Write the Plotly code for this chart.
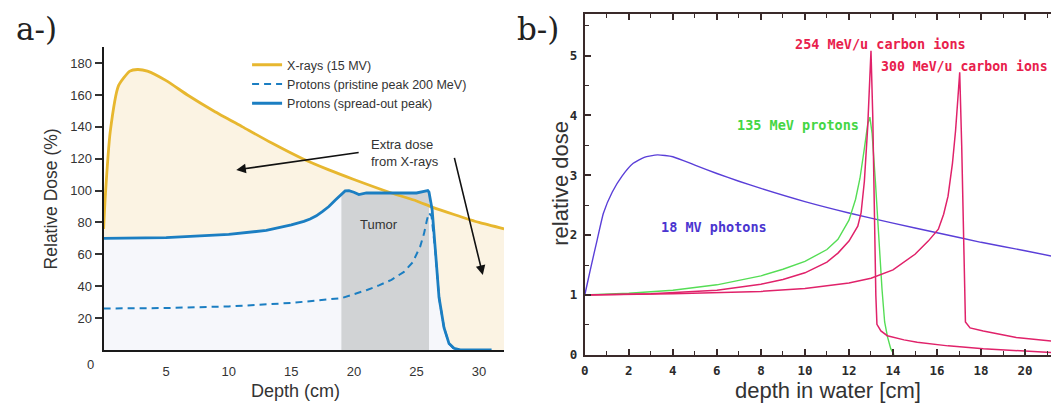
import plotly.graph_objects as go

W, H = 1051, 411

# ---------------- Panel a data ----------------
xray_depth = [0, 0.13, 0.53, 1.2, 2.1, 2.7, 3.5, 5, 6.7, 8.8, 11.1, 13.4, 15.9, 18, 20, 23, 25, 26.3, 28, 30, 32]
xray_dose = [76, 96, 137, 166, 175, 176, 175, 169, 160, 150, 140, 130, 120, 113, 107, 98.5, 93.5, 89.5, 85, 80, 76]

sobp_depth = [0, 5, 10, 13, 15, 15.5, 16, 16.5, 17, 17.5, 18, 18.5, 19.0, 19.3, 19.6, 20.0, 20.4, 21.0, 22, 23, 24,
              25, 25.6, 25.9, 26.0, 26.25, 26.5, 26.8, 27.2, 27.6, 28.0, 28.5, 31]
sobp_dose = [70, 70.5, 72.5, 75, 78.5, 79.5, 80.7, 82.2, 84.2, 87, 90, 94, 98, 99.8, 100, 99, 97.5, 98.5, 98.5,
             98.5, 98.5, 98.5, 99.5, 100, 99, 88, 63.5, 33, 14, 4, 1, 0, 0]

pristine_depth = [0, 5, 10, 15, 19, 20, 21, 22, 23, 24, 24.7, 25.3, 25.6, 25.85, 26.0, 26.2, 26.5, 26.8, 27.2, 27.6, 28.0]
pristine_dose = [26, 26.3, 27.3, 29.5, 32.5, 35, 37.5, 40.5, 44, 49, 55, 65, 73, 82, 86, 84, 62, 33, 14, 4, 0.5]

tumor_start, tumor_end = 19.0, 26.0
a_xticks = [5, 10, 15, 20, 25, 30]
a_yticks = [20, 40, 60, 80, 100, 120, 140, 160, 180]

# ---------------- Panel b data ----------------
photon_depth = [0, 0.15, 0.3, 0.55, 0.85, 1.25, 1.7, 2.2, 2.7, 3.3, 4, 5, 6, 7, 8, 10, 12, 14, 16, 18, 20, 21.2]
photon_dose = [1.0, 1.25, 1.5, 1.9, 2.37, 2.72, 2.99, 3.2, 3.3, 3.34, 3.31, 3.17, 3.03, 2.9, 2.78, 2.56, 2.37, 2.2,
               2.04, 1.88, 1.74, 1.65]

proton_depth = [0, 2, 4, 6, 8, 9, 10, 11, 11.5, 12, 12.3, 12.5, 12.7, 12.85, 12.95, 13.05, 13.2, 13.35, 13.5,
                13.62, 13.75, 13.9, 14.05]
proton_dose = [1.0, 1.03, 1.08, 1.17, 1.32, 1.43, 1.56, 1.76, 1.93, 2.25, 2.6, 2.95, 3.45, 3.85, 3.97, 3.7, 2.9,
               1.9, 1.1, 0.55, 0.3, 0.1, 0.0]

c254_depth = [0, 3, 6, 8, 9, 10, 11, 11.5, 12, 12.4, 12.55, 12.7, 12.85, 12.95, 13.0, 13.08, 13.15, 13.22, 13.27,
              13.45, 13.74, 14.5, 15.1, 16.5, 18.1, 19.5, 21.2]
c254_dose = [1.0, 1.02, 1.08, 1.18, 1.26, 1.37, 1.55, 1.7, 1.9, 2.15, 2.37, 2.9, 3.8, 4.6, 5.08, 4.0, 2.4, 1.0, 0.51,
             0.4, 0.32, 0.25, 0.21, 0.15, 0.1, 0.07, 0.04]

c300_depth = [0, 4, 8, 10, 12, 13, 14, 15, 15.6, 16.06, 16.3, 16.5, 16.7, 16.84, 16.95, 17.03, 17.12, 17.2, 17.29,
              17.5, 18.1, 19.6, 21.2]
c300_dose = [1.0, 1.02, 1.06, 1.11, 1.2, 1.28, 1.42, 1.68, 1.9, 2.1, 2.35, 2.65, 3.2, 3.74, 4.3, 4.72, 3.5, 2.0,
             0.55, 0.45, 0.4, 0.29, 0.23]

b_xticks = [0, 2, 4, 6, 8, 10, 12, 14, 16, 18, 20]
b_yticks = [0, 1, 2, 3, 4, 5]

SANS = "Liberation Sans, Arial, sans-serif"
MONO = "DejaVu Sans Mono, monospace"

YELLOW = "#E7B72F"
BLUE = "#1B7EC2"
BEIGE = "#FBF3E3"
PALE = "#F6F7FB"
GREY = "#D1D3D5"
AX_B = "#3a2a2a"

fig = go.Figure()

# panel a fills
fig.add_trace(go.Scatter(x=xray_depth, y=xray_dose, mode="lines", line=dict(width=0, shape="spline", smoothing=0.6),
                         fill="tozeroy", fillcolor=BEIGE, showlegend=False, hoverinfo="skip", xaxis="x", yaxis="y"))
fig.add_trace(go.Scatter(x=sobp_depth, y=sobp_dose, mode="lines", line=dict(width=0),
                         fill="tozeroy", fillcolor=PALE, showlegend=False, hoverinfo="skip", xaxis="x", yaxis="y"))
tum = [(d, v) for d, v in zip(sobp_depth, sobp_dose) if tumor_start <= d <= tumor_end]
fig.add_trace(go.Scatter(x=[p[0] for p in tum], y=[p[1] for p in tum], mode="lines", line=dict(width=0),
                         fill="tozeroy", fillcolor=GREY, showlegend=False, hoverinfo="skip", xaxis="x", yaxis="y"))
# panel a lines
fig.add_trace(go.Scatter(x=pristine_depth, y=pristine_dose, mode="lines", name="Protons (pristine peak 200 MeV)",
                         line=dict(color=BLUE, width=2, dash="7px,5px"), legendrank=2, xaxis="x", yaxis="y"))
fig.add_trace(go.Scatter(x=xray_depth, y=xray_dose, mode="lines", name="X-rays (15 MV)",
                         line=dict(color=YELLOW, width=2.8, shape="spline", smoothing=0.6), legendrank=1,
                         xaxis="x", yaxis="y"))
fig.add_trace(go.Scatter(x=sobp_depth, y=sobp_dose, mode="lines", name="Protons (spread-out peak)",
                         line=dict(color=BLUE, width=2.8), legendrank=3, xaxis="x", yaxis="y"))

# panel b lines
fig.add_trace(go.Scatter(x=photon_depth, y=photon_dose, mode="lines",
                         line=dict(color="#5A3FD8", width=1.4, shape="spline", smoothing=0.5),
                         showlegend=False, xaxis="x2", yaxis="y2"))
fig.add_trace(go.Scatter(x=proton_depth, y=proton_dose, mode="lines", line=dict(color="#55DD55", width=1.4),
                         showlegend=False, xaxis="x2", yaxis="y2"))
fig.add_trace(go.Scatter(x=c254_depth, y=c254_dose, mode="lines", line=dict(color="#E0226A", width=1.5),
                         showlegend=False, xaxis="x2", yaxis="y2"))
fig.add_trace(go.Scatter(x=c300_depth, y=c300_dose, mode="lines", line=dict(color="#E0226A", width=1.5),
                         showlegend=False, xaxis="x2", yaxis="y2"))


def txt(text, x, y, xref="paper", yref="paper", size=13, family=SANS, color="#333", xanchor="center",
        angle=0, align="center"):
    if xref == "paper":
        x = x / W
    if yref == "paper":
        y = 1 - y / H
    return dict(text=text, x=x, y=y, xref=xref, yref=yref, xanchor=xanchor, yanchor="middle", showarrow=False,
                textangle=angle, align=align, font=dict(family=family, size=size, color=color))


ann = [
    txt("a-)", 10, 29, size=31, family="DejaVu Serif", color="#222", xanchor="left"),
    txt("b-)", 513, 29, size=31, family="DejaVu Serif", color="#222", xanchor="left"),
    txt("0", 87, 371, size=13),
    txt("Relative Dose (%)", 47, 202, size=17.5, angle=-90),
    txt("Depth (cm)", 293, 398, size=18),
    txt("Extra dose<br>from X-rays", 21.2, 123.5, xref="x", yref="y", size=13, xanchor="left", align="left"),
    txt("Tumor", 22.0, 79, xref="x", yref="y", size=13),
    dict(text="", x=10.6, y=113, ax=20.5, ay=124, xref="x", yref="y", axref="x", ayref="y",
         showarrow=True, arrowhead=2, arrowsize=1.2, arrowwidth=1.6, arrowcolor="#111"),
    dict(text="", x=30.3, y=47, ax=28.0, ay=121.5, xref="x", yref="y", axref="x", ayref="y",
         showarrow=True, arrowhead=2, arrowsize=1.2, arrowwidth=1.6, arrowcolor="#111"),
    txt("relative dose", 559, 186, size=22, angle=-90),
    txt("depth in water [cm]", 827, 397, size=22),
    txt("<b>254 MeV/u carbon ions</b>", 13.44, 5.19, xref="x2", yref="y2", size=13.5, family=MONO, color="#E8204C"),
    txt("<b>300 MeV/u carbon ions</b>", 13.36, 4.81, xref="x2", yref="y2", size=13.2, family=MONO, color="#E8204C",
        xanchor="left"),
    txt("<b>135 MeV protons</b>", 9.68, 3.84, xref="x2", yref="y2", size=13.5, family=MONO, color="#44D644"),
    txt("<b>18 MV photons</b>", 5.88, 2.13, xref="x2", yref="y2", size=13.5, family=MONO, color="#4B35D0"),
]

fig.update_layout(
    width=W, height=H, margin=dict(l=0, r=0, t=0, b=0),
    paper_bgcolor="white", plot_bgcolor="white",
    annotations=ann,
    legend=dict(x=244 / W, y=1 - 51 / H, xanchor="left", yanchor="top", bgcolor="rgba(0,0,0,0)",
                font=dict(family=SANS, size=12.5, color="#333"), itemwidth=30, tracegroupgap=0),
    xaxis=dict(domain=[100 / W, 502 / W], range=[0, 32], showline=True, linecolor="#1a1a1a", linewidth=2,
               tickvals=a_xticks, ticks="", ticklabelstandoff=8, showgrid=False, zeroline=False,
               tickfont=dict(family=SANS, size=13, color="#333"), anchor="y"),
    yaxis=dict(domain=[1 - 356 / H, 1 - 48 / H], range=[0, 190], showline=True, linecolor="#1a1a1a", linewidth=2,
               tickvals=a_yticks, ticks="outside", ticklen=7, tickwidth=1.5, tickcolor="#333",
               showgrid=False, zeroline=False, tickfont=dict(family=SANS, size=13, color="#333"), anchor="x"),
    xaxis2=dict(domain=[583 / W, 1], range=[0, (W - 583) / 22.1], showline=True, mirror="ticks",
                linecolor=AX_B, linewidth=2, tickvals=b_xticks, ticks="inside", ticklen=6, tickwidth=1.5,
                tickcolor=AX_B, minor=dict(dtick=1, tick0=0, ticks="inside", ticklen=4, tickwidth=1.2,
                                           tickcolor=AX_B),
                showgrid=False, zeroline=False, ticklabelstandoff=3,
                tickfont=dict(family=MONO, size=12.5, color="#2a2a2a", weight="bold"), anchor="y2"),
    yaxis2=dict(domain=[1 - 361 / H, 1 - 14 / H], range=[0, (361 - 14) / 60.9], showline=True,
                linecolor=AX_B, linewidth=2, tickvals=b_yticks, ticks="inside", ticklen=6, tickwidth=1.5,
                tickcolor=AX_B, minor=dict(dtick=0.5, tick0=0, ticks="inside", ticklen=4, tickwidth=1.2,
                                           tickcolor=AX_B),
                showgrid=False, zeroline=False, ticklabelstandoff=3,
                tickfont=dict(family=MONO, size=12.5, color="#2a2a2a", weight="bold"), anchor="x2"),
)

fig.write_html("out.html", config={"displayModeBar": False},
               post_script="document.body.style.margin='0px';")
